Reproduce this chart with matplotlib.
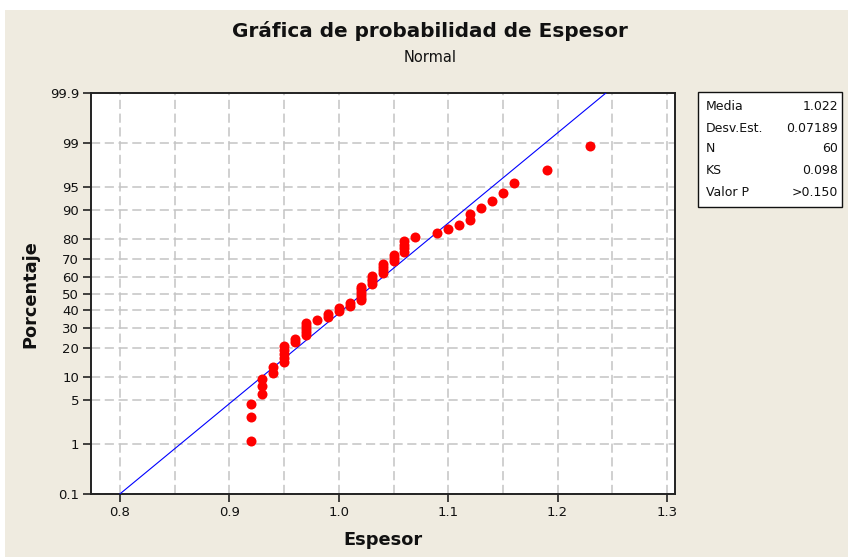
import numpy as np
import matplotlib
matplotlib.use('Agg')
import matplotlib.pyplot as plt
from matplotlib.patches import Rectangle
from matplotlib.ticker import NullLocator
from statistics import NormalDist

espesor = [0.92, 0.92, 0.92, 0.93, 0.93, 0.93, 0.94, 0.94,
           0.95, 0.95, 0.95, 0.95, 0.95, 0.96, 0.96,
           0.97, 0.97, 0.97, 0.97, 0.97, 0.98, 0.99, 0.99,
           1.00, 1.00, 1.01, 1.01, 1.02, 1.02, 1.02, 1.02, 1.02, 1.02,
           1.03, 1.03, 1.03, 1.03, 1.04, 1.04, 1.04, 1.04,
           1.05, 1.05, 1.05, 1.06, 1.06, 1.06, 1.06,
           1.07, 1.09, 1.10, 1.11, 1.12, 1.12, 1.13, 1.14, 1.15, 1.16, 1.19, 1.23]
media = 1.022
desv = 0.07189

y_ticks = [0.1, 1, 5, 10, 20, 30, 40, 50, 60, 70, 80, 90, 95, 99, 99.9]
y_labels = ['0.1', '1', '5', '10', '20', '30', '40', '50', '60', '70', '80', '90', '95', '99', '99.9']
x_ticks = [0.8, 0.9, 1.0, 1.1, 1.2, 1.3]
x_labels = ['0.8', '0.9', '1.0', '1.1', '1.2', '1.3']

stat_labels = ['Media', 'Desv.Est.', 'N', 'KS', 'Valor P']
stat_values = ['1.022', '0.07189', '60', '0.098', '>0.150']

BG = '#EFEBE0'
W, H = 848, 557
nd = NormalDist()


def fwd(p):
    p = np.clip(np.asarray(p, dtype=float) / 100.0, 1e-9, 1 - 1e-9)
    return np.vectorize(nd.inv_cdf, otypes=[float])(p)


def inv(z):
    return np.vectorize(nd.cdf, otypes=[float])(np.asarray(z, dtype=float)) * 100.0


# posiciones de graficacion (rangos medianos, como Minitab)
x = np.sort(np.array(espesor))
n = len(x)
rank = np.arange(1, n + 1)
pct = (rank - 0.3) / (n + 0.4) * 100

fig = plt.figure(figsize=(W / 100, H / 100), dpi=100, facecolor=BG)
fig.add_artist(Rectangle((0, 1 - 10 / H), 1, 10 / H, transform=fig.transFigure,
                         facecolor='white', edgecolor='none'))
fig.add_artist(Rectangle((0, 0), 5 / W, 1, transform=fig.transFigure,
                         facecolor='white', edgecolor='none'))

ax = fig.add_axes([91 / W, 1 - 494 / H, (675 - 91) / W, (494 - 93) / H])
ax.set_facecolor('white')
ax.set_yscale('function', functions=(fwd, inv))
ax.set_ylim(0.1, 99.9)
ax.set_xlim(0.7735, 1.3073)

ax.set_yticks(y_ticks, y_labels)
ax.yaxis.set_minor_locator(NullLocator())
ax.set_xticks(x_ticks, x_labels)
ax.set_xticks(np.arange(0.85, 1.3, 0.1), minor=True)
ax.tick_params(which='major', direction='out', length=6, width=1.2, color='#222222',
               labelsize=9.5, labelcolor='#111111', pad=2.5)
ax.tick_params(which='minor', length=0)

ax.grid(True, which='both', color='#C4C4C4', lw=1.1, dashes=(6, 3))
ax.set_axisbelow(True)
for s in ax.spines.values():
    s.set_color('#222222')
    s.set_linewidth(1.4)

# linea ajustada
zlim = nd.inv_cdf(0.999)
xl = np.array([media - zlim * desv, media + zlim * desv])
ax.plot(xl, inv((xl - media) / desv), color='#0000FF', lw=0.8, zorder=3)

ax.plot(x, pct, 'o', color='#FF0000', markersize=7.2, markeredgewidth=0, zorder=4)

fig.text(430 / W, 1 - 31 / H, 'Gráfica de probabilidad de Espesor', ha='center', va='center',
         fontsize=14.4, fontweight='bold', color='#111111')
fig.text(430 / W, 1 - 57 / H, 'Normal', ha='center', va='center', fontsize=10.5, color='#111111')
fig.text(30 / W, 1 - 294 / H, 'Porcentaje', ha='center', va='center', rotation=90,
         fontsize=12.8, fontweight='bold', color='#111111')
fig.text(383 / W, 1 - 540 / H, 'Espesor', ha='center', va='center',
         fontsize=12.8, fontweight='bold', color='#111111')

# cuadro de estadisticos
fig.add_artist(Rectangle((698 / W, 1 - 207 / H), (842 - 698) / W, (207 - 92) / H,
                         transform=fig.transFigure, facecolor='white', edgecolor='#111111', lw=1))
row_y = [107, 128, 149, 171, 192]
for lab, val, yy in zip(stat_labels, stat_values, row_y):
    fig.text(706 / W, 1 - yy / H, lab, ha='left', va='center', fontsize=9, color='#111111')
    fig.text(838 / W, 1 - yy / H, val, ha='right', va='center', fontsize=9, color='#111111')

fig.savefig('out.png', dpi=100, facecolor=fig.get_facecolor())
